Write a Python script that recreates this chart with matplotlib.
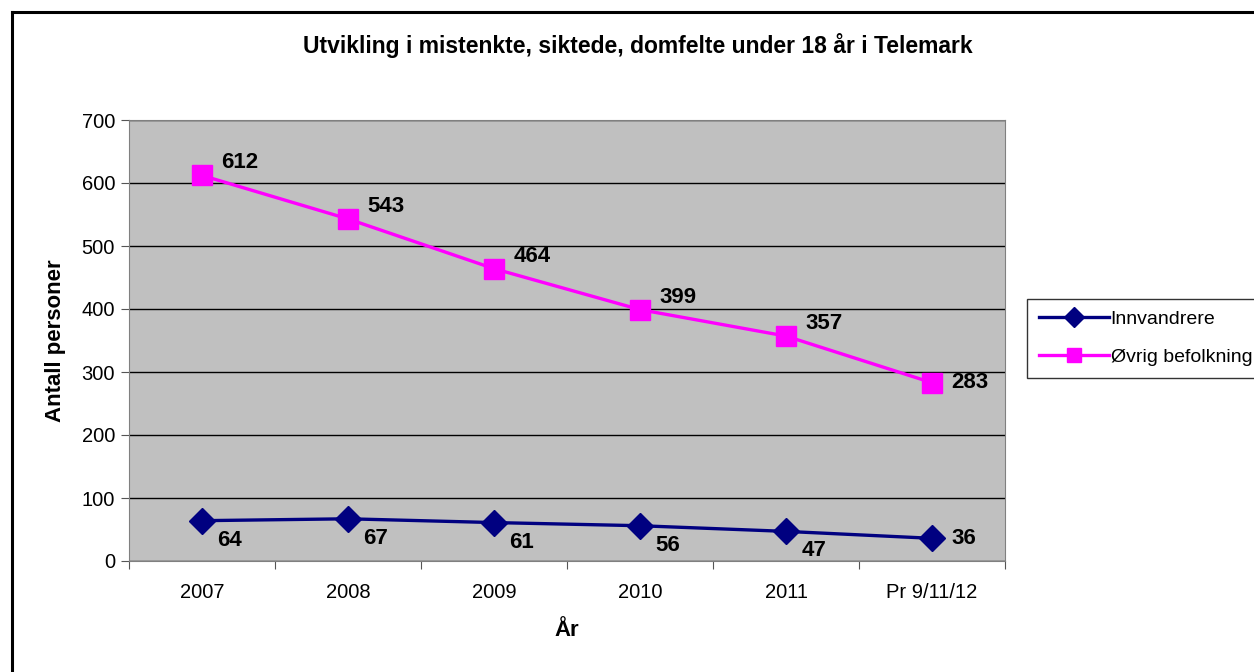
import matplotlib
matplotlib.use("Agg")
import matplotlib.pyplot as plt
from matplotlib.lines import Line2D

plt.rcParams['font.family'] = ['Liberation Sans', 'DejaVu Sans']

categories = ["2007", "2008", "2009", "2010", "2011", "Pr 9/11/12"]
innvandrere = [64, 67, 61, 56, 47, 36]
ovrig = [612, 543, 464, 399, 357, 283]
y_ticks = [0, 100, 200, 300, 400, 500, 600, 700]

W, H = 1254, 672
fig = plt.figure(figsize=(W / 100, H / 100), dpi=100)
fig.patch.set_facecolor("white")
# outer chart border (only left and top visible in the crop)
fig.add_artist(Line2D([12 / W, 12 / W], [0, 1 - 12 / H], transform=fig.transFigure,
                      color="black", linewidth=2.2))
fig.add_artist(Line2D([12 / W, 1], [1 - 12 / H, 1 - 12 / H], transform=fig.transFigure,
                      color="black", linewidth=2.2))

left, right, top, bottom = 129, 1005, 120, 561
ax = fig.add_axes([left / W, 1 - bottom / H, (right - left) / W, (bottom - top) / H])
ax.set_facecolor("#C0C0C0")

x = list(range(len(categories)))
ax.plot(x, innvandrere, color="#000080", linewidth=2.4, marker="D", markersize=13,
        label="Innvandrere", zorder=3)
ax.plot(x, ovrig, color="#FF00FF", linewidth=2.4, marker="s", markersize=14,
        label="Øvrig befolkning", zorder=3)

ax.set_xlim(-0.5, len(categories) - 0.5)
ax.set_ylim(0, 700)
ax.set_yticks(y_ticks)
ax.yaxis.grid(True, color="black", linewidth=1)
ax.set_axisbelow(True)
ax.set_xticks([i + 0.5 for i in range(len(categories) - 1)] + [-0.5, len(categories) - 0.5])
ax.set_xticklabels([])
ax.set_xticks(x, minor=True)
ax.set_xticklabels(categories, minor=True, fontsize=14.5)
ax.tick_params(axis="x", which="minor", length=0, pad=16)
ax.tick_params(axis="x", which="major", direction="out", length=6, color="#555555")
ax.tick_params(axis="y", direction="out", length=6, color="#555555", labelsize=14.5, pad=4)
for s in ["top", "right", "left", "bottom"]:
    ax.spines[s].set_color("#808080")

lbl = dict(fontsize=16, fontweight="bold", va="center", ha="left")
for i, v in enumerate(ovrig):
    if i == len(ovrig) - 1:
        ax.annotate(str(v), (i, v), xytext=(14, 0), textcoords="offset points", **lbl)
    else:
        ax.annotate(str(v), (i, v), xytext=(14, 9), textcoords="offset points", **lbl)
for i, v in enumerate(innvandrere):
    if i == len(innvandrere) - 1:
        ax.annotate(str(v), (i, v), xytext=(14, 0), textcoords="offset points", **lbl)
    else:
        ax.annotate(str(v), (i, v), xytext=(11, -14), textcoords="offset points", **lbl)

ax.set_ylabel("Antall personer", fontsize=16, fontweight="bold", labelpad=11)
ax.set_xlabel("År", fontsize=16, fontweight="bold", labelpad=13)

fig.text(638 / W, 1 - 45 / H, "Utvikling i mistenkte, siktede, domfelte under 18 år i Telemark",
         ha="center", va="center", fontsize=16.5, fontweight="bold")

leg = ax.legend(loc="upper left", bbox_to_anchor=(1027 / W, 1 - 299 / H),
                bbox_transform=fig.transFigure, frameon=True, fancybox=False,
                edgecolor="black", fontsize=14, handlelength=3.6, borderpad=0.6,
                labelspacing=1.05, handletextpad=0.1, borderaxespad=0, markerscale=0.75)
leg.get_frame().set_linewidth(1)

fig.savefig("out.png", dpi=100)
